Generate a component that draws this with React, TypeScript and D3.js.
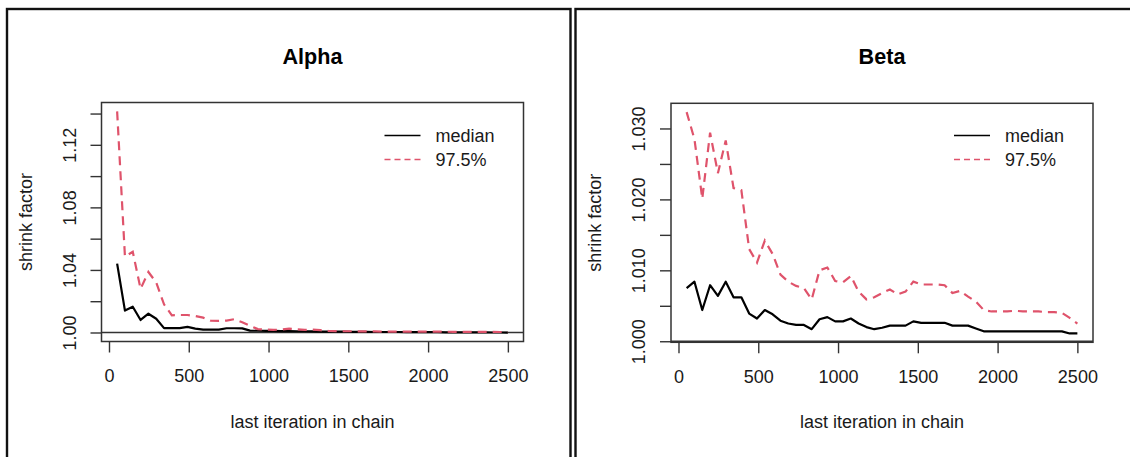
import * as d3 from "d3";
import { useEffect, useRef } from "react";

// last iteration in chain (gelman.plot bins)
const iterations = [
  51, 100, 149, 198, 247, 296, 345, 394, 443, 492,
  541, 590, 639, 688, 737, 786, 835, 884, 933, 982,
  1031, 1080, 1129, 1178, 1227, 1276, 1325, 1374, 1423, 1472,
  1521, 1570, 1619, 1668, 1717, 1766, 1815, 1864, 1913, 1962,
  2011, 2060, 2109, 2158, 2207, 2256, 2305, 2354, 2403, 2452,
  2500,
];

const alphaMedian = [
  1.044, 1.014, 1.0165, 1.008, 1.012, 1.0088, 1.0028, 1.0028, 1.0028, 1.0036,
  1.0025, 1.0018, 1.0018, 1.0018, 1.0027, 1.0027, 1.0026, 1.0012, 1.0011, 1.001,
  1.001, 1.0009, 1.0009, 1.0008, 1.0008, 1.0007, 1.0006, 1.0006, 1.0005, 1.0005,
  1.0004, 1.0004, 1.0004, 1.0003, 1.0003, 1.0003, 1.0003, 1.0002, 1.0002, 1.0002,
  1.0002, 1.0002, 1.0001, 1.0001, 1.0001, 1.0001, 1.0001, 1.0001, 1.0, 1.0,
  0.9999,
];

const alpha975 = [
  1.1414, 1.0485, 1.0516, 1.0279, 1.0387, 1.032, 1.018, 1.011, 1.0112, 1.0112,
  1.0105, 1.0095, 1.0075, 1.0074, 1.0076, 1.0085, 1.0065, 1.0042, 1.0022, 1.0018,
  1.0017, 1.0018, 1.0025, 1.002, 1.0017, 1.0018, 1.0015, 1.001, 1.0009, 1.0008,
  1.0008, 1.0007, 1.0007, 1.0007, 1.0006, 1.0006, 1.0006, 1.0006, 1.0005, 1.0005,
  1.0005, 1.0005, 1.0005, 1.0004, 1.0004, 1.0004, 1.0004, 1.0004, 1.0004, 1.0003,
  1.0003,
];

const betaMedian = [
  1.0075, 1.0084, 1.0044, 1.0079, 1.0064, 1.0084, 1.0062, 1.0062, 1.0039, 1.0032,
  1.0044, 1.0038, 1.0029, 1.0025, 1.0023, 1.0023, 1.0017, 1.0031, 1.0034, 1.0028,
  1.0028, 1.0032, 1.0025, 1.002, 1.0017, 1.0019, 1.0022, 1.0022, 1.0022, 1.0028,
  1.0026, 1.0026, 1.0026, 1.0026, 1.0022, 1.0022, 1.0022, 1.0018, 1.0014, 1.0014,
  1.0014, 1.0014, 1.0014, 1.0014, 1.0014, 1.0014, 1.0014, 1.0014, 1.0014, 1.0011,
  1.0011,
];

const beta975 = [
  1.0323, 1.0285, 1.0201, 1.0294, 1.0237, 1.0283, 1.0216, 1.0213, 1.013, 1.0111,
  1.0142, 1.0123, 1.0094, 1.0084, 1.0078, 1.0075, 1.0059, 1.01, 1.0104, 1.0085,
  1.0083, 1.0092, 1.007, 1.0059, 1.0062, 1.0068, 1.0073, 1.0066, 1.007, 1.0084,
  1.008, 1.008, 1.008, 1.0079, 1.0068, 1.0071, 1.0063, 1.0056, 1.0044, 1.0042,
  1.0042, 1.0042, 1.0043, 1.0042, 1.0042, 1.0042, 1.0041, 1.0041, 1.004, 1.0033,
  1.0025,
];

const xTicks = [0, 500, 1000, 1500, 2000, 2500];
const alphaTicks = [1.0, 1.02, 1.04, 1.06, 1.08, 1.1, 1.12, 1.14];
const alphaTickLabels = ["1.00", "", "1.04", "", "1.08", "", "1.12", ""];
const betaTicks = [1.0, 1.005, 1.01, 1.015, 1.02, 1.025, 1.03];
const betaTickLabels = ["1.000", "", "1.010", "", "1.020", "", "1.030"];
const legendLabels = ["median", "97.5%"];

const FONT = "'Liberation Sans', Arial, sans-serif";
const RED = "#DF536B";

export default function App() {
  const ref = useRef<SVGSVGElement>(null);

  useEffect(() => {
    const svg = d3.select(ref.current);
    svg.selectAll("*").remove();

    const panels = [
      { title: "Alpha", frameX: 7, frameW: 563.5, boxX: 101.5, boxTop: 102.5, median: alphaMedian, upper: alpha975, ticks: alphaTicks, labels: alphaTickLabels },
      { title: "Beta", frameX: 575.5, frameW: 600, boxX: 671, boxTop: 103.3, median: betaMedian, upper: beta975, ticks: betaTicks, labels: betaTickLabels },
    ];

    const boxH = 239, boxW = 422;

    panels.forEach(p => {
      const g = svg.append("g");
      const boxTop = p.boxTop;

      // outer frame of the panel
      g.append("rect")
        .attr("x", p.frameX).attr("y", 9)
        .attr("width", p.frameW).attr("height", 520)
        .attr("fill", "none").attr("stroke", "#111").attr("stroke-width", 2.4);

      // x: 4% padding like R
      const xExt = d3.extent(iterations) as [number, number];
      const xPad = (xExt[1] - xExt[0]) * 0.04;
      const x = d3.scaleLinear()
        .domain([xExt[0] - xPad, xExt[1] + xPad])
        .range([p.boxX, p.boxX + boxW]);

      const yExt = d3.extent([...p.median, ...p.upper]) as [number, number];
      const yPad = (yExt[1] - yExt[0]) * 0.04;
      const y = d3.scaleLinear()
        .domain([yExt[0] - yPad, yExt[1] + yPad])
        .range([boxTop + boxH, boxTop]);

      const boxBottom = boxTop + boxH;
      const boxRight = p.boxX + boxW;
      const cx = p.boxX + boxW / 2;

      // x axis
      const xAxis = g.append("g")
        .attr("transform", `translate(0, ${boxBottom})`)
        .call(d3.axisBottom(x).tickValues(xTicks).tickSize(11).tickPadding(17).tickFormat(d3.format("d")));
      xAxis.select(".domain").remove();
      xAxis.selectAll("line").attr("stroke", "#333").attr("stroke-width", 1.4);
      xAxis.selectAll("text")
        .attr("font-family", FONT).attr("font-size", 18).attr("fill", "#1a1a1a");

      // y axis, labels rotated like R's las = 0
      const yAxis = g.append("g")
        .attr("transform", `translate(${p.boxX}, 0)`)
        .call(d3.axisLeft(y).tickValues(p.ticks).tickSize(11)
          .tickFormat((_d, i) => p.labels[i]));
      yAxis.select(".domain").remove();
      yAxis.selectAll("line").attr("stroke", "#333").attr("stroke-width", 1.4);
      yAxis.selectAll("text")
        .attr("font-family", FONT).attr("font-size", 18).attr("fill", "#1a1a1a")
        .attr("text-anchor", "middle")
        .attr("transform", "rotate(-90)")
        .attr("x", 0).attr("y", -26).attr("dy", 0);

      // reference line at 1
      g.append("line")
        .attr("x1", p.boxX).attr("x2", boxRight)
        .attr("y1", y(1)).attr("y2", y(1))
        .attr("stroke", "#333").attr("stroke-width", 1.4);

      const line = d3.line<number>()
        .x((_d, i) => x(iterations[i]))
        .y(d => y(d));

      g.append("path")
        .datum(p.median)
        .attr("d", line)
        .attr("fill", "none").attr("stroke", "#000").attr("stroke-width", 2.2)
        .attr("stroke-linejoin", "round");

      g.append("path")
        .datum(p.upper)
        .attr("d", line)
        .attr("fill", "none").attr("stroke", RED).attr("stroke-width", 2.2)
        .attr("stroke-dasharray", "9,6");

      // plot box
      g.append("rect")
        .attr("x", p.boxX).attr("y", boxTop)
        .attr("width", boxW).attr("height", boxH)
        .attr("fill", "none").attr("stroke", "#333").attr("stroke-width", 1.5);

      // title
      g.append("text")
        .attr("x", cx).attr("y", 64)
        .attr("text-anchor", "middle")
        .attr("font-family", FONT).attr("font-size", 21.6).attr("font-weight", "bold")
        .text(p.title);

      // axis titles
      g.append("text")
        .attr("x", cx).attr("y", 428)
        .attr("text-anchor", "middle")
        .attr("font-family", FONT).attr("font-size", 18).attr("fill", "#1a1a1a")
        .text("last iteration in chain");

      g.append("text")
        .attr("transform", `translate(${p.boxX - 70}, ${boxTop + boxH / 2}) rotate(-90)`)
        .attr("text-anchor", "middle")
        .attr("font-family", FONT).attr("font-size", 18).attr("fill", "#1a1a1a")
        .text("shrink factor");

      // legend
      const lx1 = boxRight - 139, lx2 = boxRight - 103;
      legendLabels.forEach((lab, i) => {
        const ly = 135.5 + i * 24;
        g.append("line")
          .attr("x1", lx1).attr("x2", lx2).attr("y1", ly).attr("y2", ly)
          .attr("stroke", i === 0 ? "#000" : RED).attr("stroke-width", 1.3)
          .attr("stroke-dasharray", i === 0 ? null : "6,4");
        g.append("text")
          .attr("x", boxRight - 88).attr("y", ly + 6.5)
          .attr("font-family", FONT).attr("font-size", 18).attr("fill", "#1a1a1a")
          .text(lab);
      });
    });
  }, []);

  return (
    <svg ref={ref} width={1130} height={457}
      style={{ position: "absolute", left: 0, top: 0, background: "#fff" }} />
  );
}
